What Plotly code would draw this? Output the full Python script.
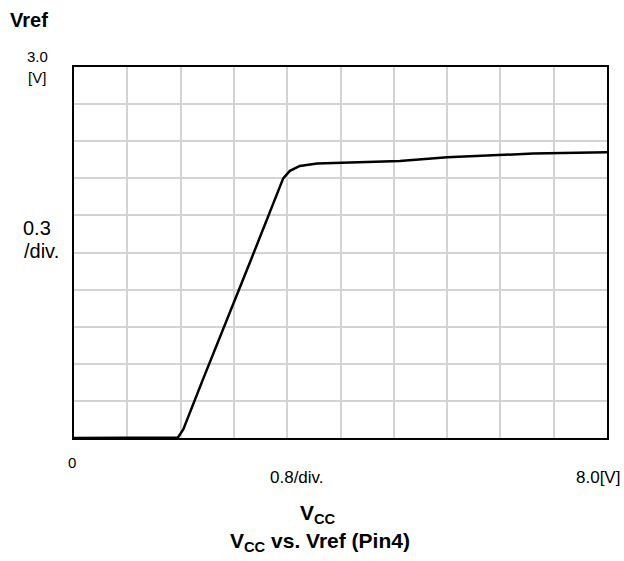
import plotly.graph_objects as go

vcc = [0.0, 1.0, 1.56, 1.64, 1.79, 1.94, 2.67, 2.90, 3.02, 3.14, 3.24, 3.39, 3.65, 4.14, 4.89, 5.60, 6.39, 6.89, 8.0]
vref = [0.0, 0.0, 0.005, 0.07, 0.283, 0.48, 1.46, 1.77, 1.93, 2.10, 2.16, 2.20, 2.22, 2.23, 2.24, 2.27, 2.29, 2.30, 2.31]

L, R, T, B = 74, 607, 67, 438
W, H = 624, 561

def px(x):
    return (x - L) / (R - L)

def py(y):
    return (B - y) / (B - T)

FONT = "Liberation Sans, Arial, sans-serif"

fig = go.Figure()
fig.add_trace(go.Scatter(x=vcc, y=vref, mode="lines",
                         line=dict(color="black", width=2.5), showlegend=False))

axis_common = dict(showgrid=True, gridcolor="#d3d3d3", gridwidth=2,
                   showline=True, linecolor="black", linewidth=2, mirror=True,
                   showticklabels=False, ticks="", zeroline=False, fixedrange=True)
fig.update_xaxes(range=[0, 8.0], dtick=0.8, tick0=0, **axis_common)
fig.update_yaxes(range=[0, 3.0], dtick=0.3, tick0=0, **axis_common)

annots = [
    ("<b>Vref</b>", 8, 20, "left", 20),
    ("3.0", 37, 57, "center", 15),
    ("[V]", 37, 78, "center", 15),
    ("0.3", 37, 228, "center", 20),
    ("/div.", 41, 251, "center", 20),
    ("0", 72, 462, "center", 15),
    ("0.8/div.", 297, 477, "center", 17),
    ("8.0[V]", 622, 477, "right", 17),
    ("<b>V<sub>CC</sub></b>", 318, 514, "center", 21),
    ("<b>V<sub>CC</sub> vs. Vref (Pin4)</b>", 320, 542, "center", 21),
]
for text, x, y, anchor, size in annots:
    fig.add_annotation(text=text, xref="paper", yref="paper", x=px(x), y=py(y),
                       xanchor=anchor, yanchor="middle", showarrow=False,
                       font=dict(size=size, color="black", family=FONT))

fig.update_layout(width=W, height=H, margin=dict(l=L, r=W - R, t=T, b=H - B),
                  paper_bgcolor="white", plot_bgcolor="white",
                  font=dict(family=FONT, color="black"))

fig.write_html("out.html", config={"displayModeBar": False},
               post_script="document.body.style.margin='0';document.body.style.overflow='hidden';")
